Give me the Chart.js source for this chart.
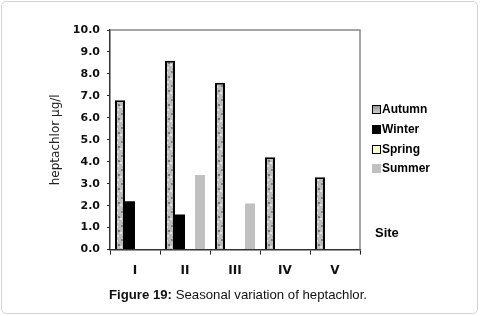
<!DOCTYPE html>
<html>
<head>
<meta charset="utf-8">
<script src="https://cdn.jsdelivr.net/npm/chart.js@4/dist/chart.umd.min.js"></script>
<style>
  body { margin: 0; background: #fff; }
  #frame { position: absolute; left: 1px; top: 1px; width: 475px; height: 311px; border: 1px solid #d4d4d4; border-radius: 5px; }
  #wrap { position: absolute; left: 0; top: 0; width: 481px; height: 316px; }
  .lg { position: absolute; left: 372px; font: bold 12px Arial, "Liberation Sans", sans-serif; color: #000; line-height: 14px; }
  .lg i { display: inline-block; width: 9px; height: 9px; margin-right: 1px; vertical-align: -1px; box-sizing: border-box; }
  #site { position: absolute; left: 375px; top: 225px; font: bold 13px Arial, "Liberation Sans", sans-serif; }
  #cap { position: absolute; left: 0; width: 476px; top: 287px; text-align: center; font: 13.2px Arial, "Liberation Sans", sans-serif; color: #111; }
</style>
</head>
<body>
<div id="frame"></div>
<div id="wrap"><canvas id="c" width="481" height="316"></canvas></div>
<div id="legend"></div>
<div id="site">Site</div>
<div id="cap"><b>Figure 19:</b> Seasonal variation of heptachlor.</div>
<script>
// data
const sites = ['I', 'II', 'III', 'IV', 'V'];
const autumn = [6.8, 8.6, 7.6, 4.2, 3.3];
const winter = [2.2, 1.6, 0, 0, 0];
const spring = [0, 0, 0, 0, 0];
const summer = [0, 3.4, 2.1, 0, 0];
const yTicks = [0, 1, 2, 3, 4, 5, 6, 7, 8, 9, 10];

// mottled grey fill for the autumn bars
function mottle() {
    const p = document.createElement('canvas');
    p.width = 10; p.height = 14;
    const g = p.getContext('2d');
    g.fillStyle = '#bdbdbd';
    g.fillRect(0, 0, 10, 14);
    const spots = [[1,1,'#858585'],[6,2,'#e2e2e2'],[3,5,'#969696'],[8,6,'#7a7a7a'],[0,8,'#e4e4e4'],[5,9,'#8c8c8c'],[2,12,'#a4a4a4'],[7,11,'#dadada'],[4,3,'#aaaaaa']];
    spots.forEach(s => { g.fillStyle = s[2]; g.fillRect(s[0], s[1], 2, 2); });
    return g.createPattern(p, 'repeat');
}
const ctx = document.getElementById('c').getContext('2d');
const autumnFill = mottle();

const series = [
    { label: 'Autumn', data: autumn, backgroundColor: autumnFill, borderColor: '#000', borderWidth: 2, box: 'linear-gradient(#999,#ccc)', boxBorder: '#000' },
    { label: 'Winter', data: winter, backgroundColor: '#000', borderWidth: 0, box: '#000', boxBorder: '#000' },
    { label: 'Spring', data: spring, backgroundColor: '#ffffcc', borderColor: '#000', borderWidth: 0, box: '#ffffcc', boxBorder: '#000' },
    { label: 'Summer', data: summer, backgroundColor: '#c0c0c0', borderWidth: 0, box: '#c0c0c0', boxBorder: '#c0c0c0' }
];

// legend at right
const leg = document.getElementById('legend');
series.forEach((s, i) => {
    const d = document.createElement('div');
    d.className = 'lg';
    d.style.top = (102 + i * 19.8) + 'px';
    d.innerHTML = '<i style="background:' + s.box + ';border:1px solid ' + s.boxBorder + '"></i>' + s.label;
    leg.appendChild(d);
});

// grey top/right frame of the plot area
const frameLines = {
    id: 'frameLines',
    afterDraw(chart) {
        const a = chart.chartArea, c = chart.ctx;
        c.save();
        c.strokeStyle = '#888';
        c.lineWidth = 1.5;
        c.beginPath();
        c.moveTo(a.left, a.top);
        c.lineTo(a.right, a.top);
        c.lineTo(a.right, a.bottom);
        c.stroke();
        c.restore();
    }
};

const tickFont = { family: '"DejaVu Sans", sans-serif', size: 11, weight: 'bold' };

new Chart(ctx, {
    type: 'bar',
    data: {
        labels: sites,
        datasets: series.map(s => ({
            label: s.label, data: s.data, backgroundColor: s.backgroundColor,
            borderColor: s.borderColor, borderWidth: s.borderWidth,
            categoryPercentage: 0.8, barPercentage: 1.0
        }))
    },
    options: {
        responsive: false,
        animation: false,
        layout: { padding: { left: 49, right: 121, top: 30, bottom: 29 } },
        plugins: { legend: { display: false }, tooltip: { enabled: false } },
        scales: {
            x: {
                offset: true,
                grid: { offset: true, drawOnChartArea: false, drawTicks: true, tickLength: 5, color: '#222' },
                border: { color: '#333', width: 1.5 },
                ticks: { font: { family: '"DejaVu Sans", sans-serif', size: 12, weight: 'bold' }, color: '#111', padding: 9 }
            },
            y: {
                min: 0, max: 10,
                afterFit: s => { s.width = 61; },
                afterBuildTicks: s => { s.ticks = yTicks.map(v => ({ value: v })); },
                grid: { drawOnChartArea: false, drawTicks: true, tickLength: 3, color: '#222' },
                border: { color: '#333', width: 1.5 },
                ticks: { font: tickFont, color: '#111', padding: 7, callback: v => v.toFixed(1) },
                title: { display: true, text: 'heptachlor µg/l', font: { family: '"DejaVu Sans", sans-serif', size: 12 }, color: '#222', padding: 0 }
            }
        }
    },
    plugins: [frameLines]
});
</script>
</body>
</html>
